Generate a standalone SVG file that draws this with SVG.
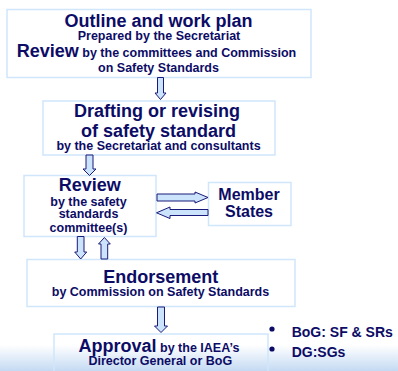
<svg xmlns="http://www.w3.org/2000/svg" width="398" height="371" viewBox="0 0 398 371">
  <defs>
    <linearGradient id="bg" x1="0" y1="0" x2="0" y2="1">
      <stop offset="0" stop-color="#ffffff"/>
      <stop offset="1" stop-color="#c4daf2"/>
    </linearGradient>
    <style>
      .box { fill: none; stroke: #cfe6fb; stroke-width: 1.5; }
      .arr { fill: #cce4fb; stroke: #1a1a7a; stroke-width: 1; stroke-linejoin: miter; }
      text { font-family: "Liberation Sans", Arial, sans-serif; font-weight: bold; fill: #0c0c66; text-anchor: middle; }
      .big { font-size: 18px; }
      .small { font-size: 12.5px; }
      .mid { font-size: 16px; }
      .bul { font-size: 14px; text-anchor: start; }
    </style>
  </defs>
  <rect x="0" y="0" width="398" height="371" fill="#ffffff"/>
  <rect x="0" y="345" width="398" height="26" fill="url(#bg)"/>

  <g id="outline">
    <rect class="box" x="7" y="9.5" width="304" height="68"/>
    <text class="big" x="158.5" y="27">Outline and work plan</text>
    <text class="small" x="159" y="40">Prepared by the Secretariat</text>
    <text x="156.5" y="57.3"><tspan class="big">Review</tspan><tspan class="small"> by the committees and Commission</tspan></text>
    <text class="small" x="158.5" y="71.5">on Safety Standards</text>
  </g>

  <g id="drafting">
    <rect class="box" x="43" y="101" width="232" height="54"/>
    <text class="big" x="157" y="117.3">Drafting or revising</text>
    <text class="big" x="158.5" y="136.5">of safety standard</text>
    <text class="small" x="158.5" y="149.5">by the Secretariat and consultants</text>
  </g>

  <g id="review">
    <rect class="box" x="24" y="175.5" width="132" height="61"/>
    <text class="big" x="89.7" y="190.7">Review</text>
    <text class="small" x="88.5" y="205.7">by the safety</text>
    <text class="small" x="88.5" y="218.3">standards</text>
    <text class="small" x="88.5" y="231.7">committee(s)</text>
  </g>

  <g id="member-states">
    <rect class="box" x="208.5" y="182.5" width="82.5" height="43"/>
    <text class="mid" x="249" y="200">Member</text>
    <text class="mid" x="249" y="216.7">States</text>
  </g>

  <g id="endorsement">
    <rect class="box" x="27" y="259.5" width="268" height="47"/>
    <text class="big" x="160.8" y="282.7">Endorsement</text>
    <text class="small" x="160.5" y="295.7">by Commission on Safety Standards</text>
  </g>

  <g id="approval">
    <rect class="box" x="54" y="334" width="214" height="45"/>
    <text x="159" y="351.7"><tspan class="big">Approval</tspan><tspan class="small"> by the IAEA’s</tspan></text>
    <text class="small" x="160.3" y="365">Director General or BoG</text>
  </g>

  <g id="approval-notes">
    <circle cx="272" cy="329" r="2.6" fill="#0c0c66"/>
    <circle cx="272" cy="349" r="2.6" fill="#0c0c66"/>
    <text class="bul" x="291.7" y="337">BoG: SF &amp; SRs</text>
    <text class="bul" x="291.7" y="356.7">DG:SGs</text>
  </g>

  <g id="connectors">
    <path class="arr" d="M157.5,77.5 H163.5 V93 H166 L160.5,99.5 L155,93 H157.5 Z"/>
    <path class="arr" d="M86,155 H93 V169 H96 L89.5,175.5 L83,169 H86 Z"/>
    <path class="arr" d="M157,194 H195 V192 L208,197.5 L195,203 V201 H157 Z"/>
    <path class="arr" d="M208,209.5 H170 V207 L156.5,212.8 L170,218.5 V215.5 H208 Z"/>
    <path class="arr" d="M77.3,236.5 H84 V252 H86.7 L80.7,259 L74.7,252 H77.3 Z"/>
    <path class="arr" d="M101,259 H107.7 V244 H110.3 L104.4,237.5 L98.5,244 H101 Z"/>
    <path class="arr" d="M157.5,307 H164.5 V326 H167.5 L161,332.5 L154.5,326 H157.5 Z"/>
  </g>
</svg>
